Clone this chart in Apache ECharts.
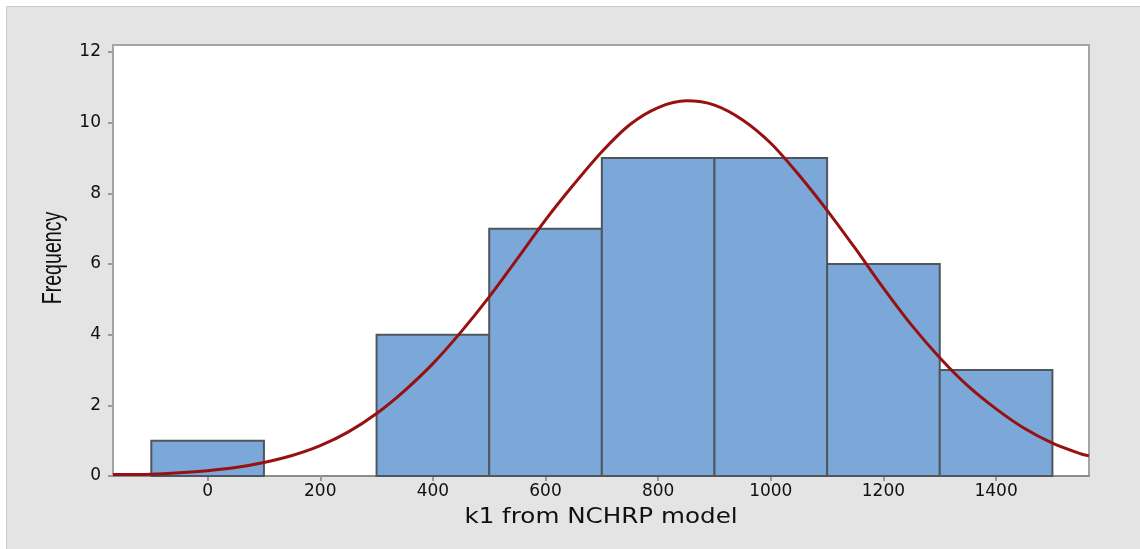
<!DOCTYPE html>
<html>
<head>
<meta charset="utf-8">
<script src="https://cdn.jsdelivr.net/npm/echarts@6/dist/echarts.min.js"></script>
<style>
  html, body { margin: 0; padding: 0; background: #ffffff; }
  #wrap { position: relative; width: 1140px; height: 549px; overflow: hidden; }
  #panel { position: absolute; left: 6px; top: 6px; right: 0; bottom: 0;
           background: #e4e4e4; border-top: 1px solid #cdcdcd; border-left: 1px solid #cdcdcd; }
  #chart { position: absolute; left: 0; top: 0; width: 1140px; height: 549px; }
</style>
</head>
<body>
<div id="wrap">
  <div id="panel"></div>
  <div id="chart"></div>
</div>
<script>
// Histogram bins of k1 (bin edges) and their counts
const binStart = [-100, 100, 300, 500, 700, 900, 1100, 1300];
const binEnd   = [100, 300, 500, 700, 900, 1100, 1300, 1500];
const frequency = [1, 0, 4, 7, 9, 9, 6, 3];

// Fitted normal curve, sampled along k1
const fitX = [-168, -150, -100, -50, 0, 50, 100, 150, 200, 250, 300, 350, 400, 450, 500,
              550, 600, 650, 700, 750, 800, 850, 900, 950, 1000, 1050, 1100, 1150, 1200,
              1250, 1300, 1350, 1400, 1450, 1500, 1550, 1565];
const fitY = [0.04, 0.04, 0.05, 0.09, 0.15, 0.24, 0.38, 0.58, 0.86, 1.25, 1.77, 2.42, 3.18, 4.08, 5.07,
              6.15, 7.25, 8.25, 9.18, 9.95, 10.43, 10.62, 10.5, 10.08, 9.42, 8.52, 7.52, 6.44, 5.32,
              4.27, 3.35, 2.55, 1.9, 1.35, 0.93, 0.63, 0.57];

// Axis tick labels
const xTicks = [0, 200, 400, 600, 800, 1000, 1200, 1400];
const yTicks = [0, 2, 4, 6, 8, 10, 12];

const xTitle = 'k1 from NCHRP model';
const yTitle = 'Frequency';

const chart = echarts.init(document.getElementById('chart'), null, { renderer: 'canvas' });

const tickFont = { fontFamily: 'DejaVu Sans', fontSize: 17, color: '#101010', formatter: v => String(v) };

chart.setOption({
  backgroundColor: 'transparent',
  animation: false,
  grid: {
    left: 113, right: 51, top: 45, bottom: 73,
    show: true, backgroundColor: '#ffffff',
    borderColor: '#a4a4a4', borderWidth: 2
  },
  xAxis: {
    type: 'value', min: -168, max: 1565,
    splitLine: { show: false },
    axisLine: { show: true, onZero: false, lineStyle: { color: '#8c8c8c', width: 2 } },
    axisTick: { show: true, length: 5, customValues: xTicks, lineStyle: { color: '#9a9a9a', width: 2 } },
    axisLabel: Object.assign({ margin: 7, customValues: xTicks }, tickFont)
  },
  yAxis: {
    type: 'value', min: 0, max: 12.2,
    splitLine: { show: false },
    axisLine: { show: true, onZero: false, lineStyle: { color: '#a4a4a4', width: 2 } },
    axisTick: { show: true, length: 5, customValues: yTicks, lineStyle: { color: '#9a9a9a', width: 2 } },
    axisLabel: Object.assign({ margin: 12, customValues: yTicks }, tickFont)
  },
  graphic: [
    {
      type: 'text', x: 601, y: 518, scaleX: 1.2,
      style: { text: xTitle, fontFamily: 'DejaVu Sans', fontSize: 20.5, fill: '#101010',
               textAlign: 'center', textVerticalAlign: 'middle' }
    },
    {
      type: 'text', x: 53, y: 258, rotation: Math.PI / 2, scaleX: 0.7,
      style: { text: yTitle, fontFamily: 'Liberation Sans', fontSize: 28, fill: '#101010',
               textAlign: 'center', textVerticalAlign: 'middle' }
    }
  ],
  series: [
    {
      type: 'custom',
      data: binStart.map((s, i) => [s, binEnd[i], frequency[i]]),
      encode: { x: [0, 1], y: 2 },
      renderItem: function (params, api) {
        if (api.value(2) <= 0) return null;
        const topLeft = api.coord([api.value(0), api.value(2)]);
        const bottomRight = api.coord([api.value(1), 0]);
        return {
          type: 'rect',
          shape: { x: topLeft[0], y: topLeft[1],
                   width: bottomRight[0] - topLeft[0], height: bottomRight[1] - topLeft[1] },
          style: { fill: '#7ba7d9', stroke: '#50565e', lineWidth: 2 }
        };
      },
      z: 2
    },
    {
      type: 'line',
      data: fitX.map((x, i) => [x, fitY[i]]),
      showSymbol: false,
      smooth: 0.3,
      lineStyle: { color: '#981111', width: 3 },
      z: 3
    }
  ]
});
</script>
</body>
</html>
